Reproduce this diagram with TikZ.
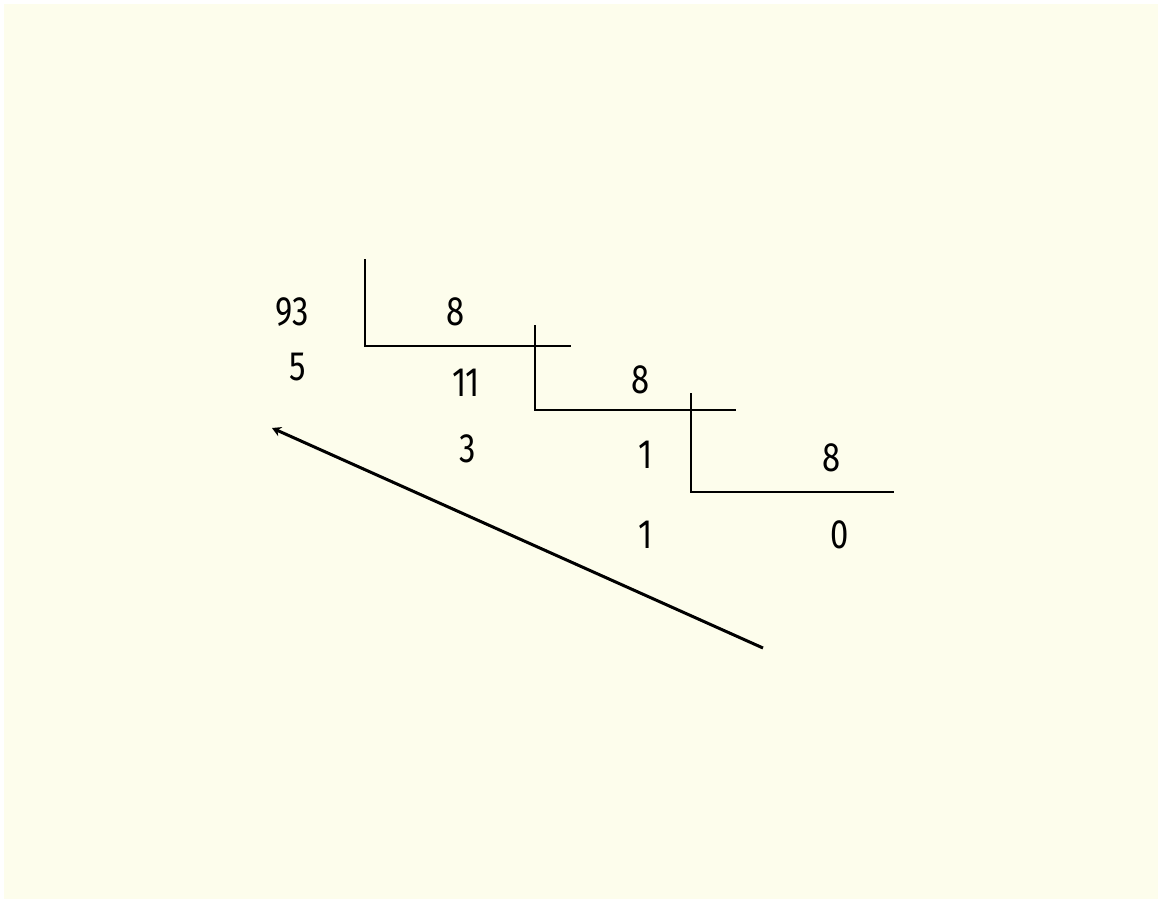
\documentclass[tikz,border=0pt]{standalone}
\usepackage{fontspec}
\setmainfont{Fira Sans}
\usetikzlibrary{arrows.meta}
\definecolor{bg}{HTML}{FDFDEC}
\tikzset{
  num/.style={font=\fontsize{41}{43}\selectfont, inner sep=0pt, anchor=center, xscale=0.8},
  bracket/.style={line width=2.2pt, black},
  back/.style={line width=3pt, black, -{Stealth[length=9pt,width=10pt,inset=3pt]}}
}
\begin{document}
\begin{tikzpicture}[x=1pt,y=-1pt]
\useasboundingbox (0,0) rectangle (1162,903);
\fill[white] (0,0) rectangle (1162,903);
\fill[bg] (4,4) rectangle (1158,899);
% numbers
\node[num] (n93) at (292,312) {93};
\node[num] (r5) at (298,367) {5};
\node[num] (d1) at (456,312) {8};
\node[num] (q11) at (466,383) {11};
\node[num] (d2) at (641,380) {8};
\node[num] (r3) at (468,449) {3};
\node[num] (q1) at (646,455) {1};
\node[num] (d3) at (832,458) {8};
\node[num] (r1) at (646,535) {1};
\node[num] (q0) at (840,535) {0};
% division brackets
\coordinate (a1) at (365,259); \coordinate (b1) at (365,346); \coordinate (c1) at (571,346);
\coordinate (a2) at (535,325); \coordinate (b2) at (535,410); \coordinate (c2) at (736,410);
\coordinate (a3) at (691,393); \coordinate (b3) at (691,492); \coordinate (c3) at (894,492);
\draw[bracket] (a1) -- (b1) -- (c1);
\draw[bracket] (a2) -- (b2) -- (c2);
\draw[bracket] (a3) -- (b3) -- (c3);
% reading arrow
\coordinate (s) at (763,648);
\coordinate (e) at (272,428);
\draw[back] (s) -- (e);
\end{tikzpicture}
\end{document}
